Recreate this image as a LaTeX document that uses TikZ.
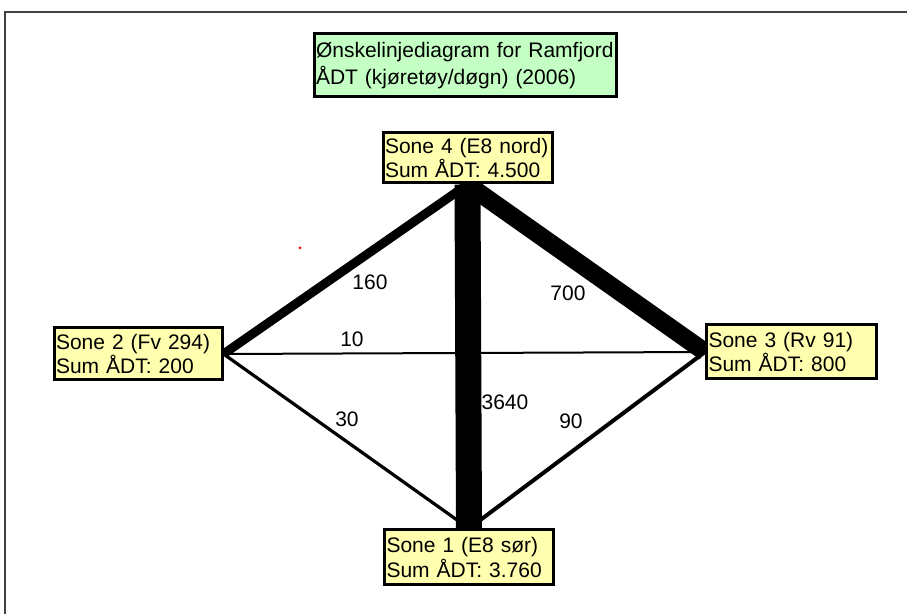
\documentclass[tikz,border=0pt]{standalone}
\usepackage{fontspec}
\setmainfont{Liberation Sans}
\usepackage{tikz}
\usetikzlibrary{backgrounds}
\definecolor{zoneyellow}{RGB}{255,255,175}
\definecolor{titlegreen}{RGB}{196,255,196}
\tikzstyle{zone} = [rectangle, draw=black, line width=1.5pt, fill=zoneyellow, align=left, inner xsep=1pt, inner ysep=0pt, font=\fontsize{10.5}{11}\selectfont]
\tikzstyle{heading} = [rectangle, draw=black, line width=1.5pt, fill=titlegreen, align=left, inner xsep=1pt, inner ysep=0pt, font=\fontsize{10.5}{13.3}\selectfont]
\tikzstyle{flow} = [draw=black, line cap=butt]
\tikzstyle{amount} = [font=\fontsize{10.5}{12}\selectfont]

\begin{document}
\begin{tikzpicture}[x=0.5pt,y=-0.5pt]
\useasboundingbox (0,0) rectangle (907,614);
\draw [line width=1pt, black!75] (5,614) -- (5,12) -- (907,12);

\node (title) [heading, text width=149pt, minimum height=31.5pt] at (465,65.5) {Ønskelinjediagram for Ramfjord\\ÅDT (kjøretøy/døgn) (2006)};
\node (s4) [zone, text width=82.5pt, minimum height=25pt] at (467.5,158) {Sone 4 (E8 nord)\\Sum ÅDT: 4.500};
\node (s2) [zone, text width=82pt, minimum height=26pt] at (138,354) {Sone 2 (Fv 294)\\Sum ÅDT: 200};
\node (s3) [zone, text width=83pt, minimum height=27pt] at (791.5,352) {Sone 3 (Rv 91)\\Sum ÅDT: 800};
\node (s1) [zone, text width=82.5pt, minimum height=27.5pt] at (469,557.5) {Sone 1 (E8 sør)\\Sum ÅDT: 3.760};

% flows between the zones
\begin{scope}[on background layer]
\draw [flow, line width=13pt] (s4.south) -- (s1.north);
\draw [flow, line width=9pt] (s4.south) -- (s3.west);
\draw [flow, line width=4.5pt] (s2.east) -- (s4.south);
\draw [flow, line width=1pt] (s2.east) -- (s3.west);
\draw [flow, line width=1.6pt] (s2.east) -- (s1.north);
\draw [flow, line width=2pt] (s3.west) -- (s1.north);
\end{scope}

\node (a160) [amount] at (370,282) {160};
\node (a700) [amount] at (568,293) {700};
\node (a10) [amount] at (352,339) {10};
\node (a30) [amount] at (347,419) {30};
\node (a3640) [amount] at (505,402) {3640};
\node (a90) [amount] at (571,421) {90};

\fill [red] (300,248) circle (1.5);
\end{tikzpicture}
\end{document}
